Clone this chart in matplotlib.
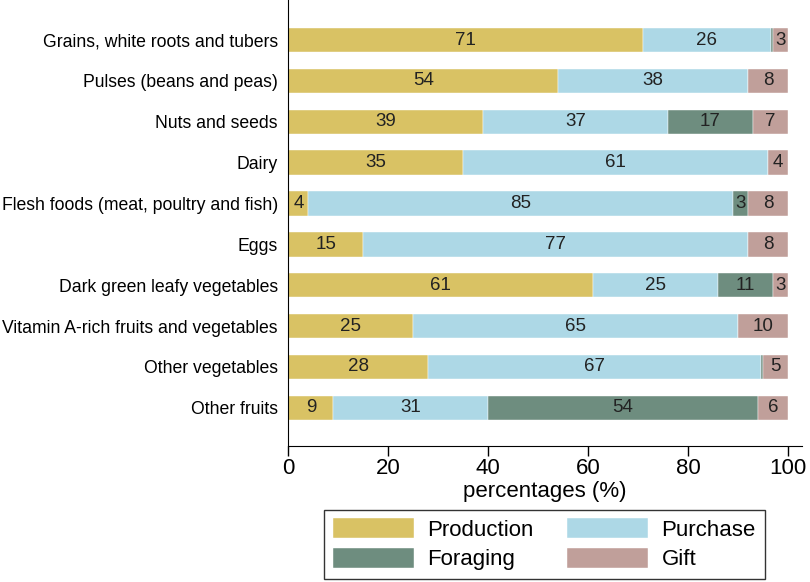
import numpy as np
import matplotlib.pyplot as plt

plt.rcParams['font.family'] = ['Liberation Sans', 'DejaVu Sans']

# Categorías y valores (%)
categorias = ['Grains, white roots and tubers', 'Pulses (beans and peas)', 'Nuts and seeds',
              'Dairy', 'Flesh foods (meat, poultry and fish)', 'Eggs',
              'Dark green leafy vegetables', 'Vitamin A-rich fruits and vegetables',
              'Other vegetables', 'Other fruits']
production = [71, 54, 39, 35, 4, 15, 61, 25, 28, 9]
purchase = [25.6, 38, 37, 61, 85, 77, 25, 65, 66.6, 31]
foraging = [0.4, 0, 17, 0, 3, 0, 11, 0, 0.4, 54]
gift = [3, 8, 7, 4, 8, 8, 3, 10, 5, 6]

series = ['Production', 'Purchase', 'Foraging', 'Gift']
colores = ['#d9c264', '#add8e6', '#6e8d7f', '#c09f9a']
datos = [production, purchase, foraging, gift]

fig = plt.figure(figsize=(8.1, 5.82), dpi=100)
ax = fig.add_axes([0.356, 0.234, 0.634, 0.766])

y = np.arange(len(categorias))
izq = np.zeros(len(categorias))
handles = []
for nombre, col, vals in zip(series, colores, datos):
    vals = np.array(vals, dtype=float)
    b = ax.barh(y, vals, left=izq, height=0.6, color=col, label=nombre,
                edgecolor='white', linewidth=0.3)
    handles.append(b)
    for yi, l, v in zip(y, izq, vals):
        if v >= 1:
            ax.text(l + v / 2, yi, f'{v:.0f}', ha='center', va='center',
                    fontsize=13.5, color='#222222')
    izq += vals

ax.set_xlim(0, 102.8)
ax.set_ylim(9.93, -0.98)
ax.set_yticks(y)
ax.set_yticklabels(categorias, fontsize=12.7)
ax.tick_params(axis='y', length=0, pad=7.5)
ax.set_xticks([0, 20, 40, 60, 80, 100])
ax.tick_params(axis='x', labelsize=16, length=7, width=1, pad=2)
ax.set_xlabel('percentages (%)', fontsize=16, labelpad=1)
ax.spines['top'].set_visible(False)
ax.spines['right'].set_visible(False)

# orden por filas: Production, Purchase / Foraging, Gift
orden = [handles[0], handles[2], handles[1], handles[3]]
etiquetas = [series[0], series[2], series[1], series[3]]
leg = fig.legend(orden, etiquetas, loc='lower center', bbox_to_anchor=(0.672, 0.005),
                 ncol=2, fontsize=16, frameon=True, fancybox=False, edgecolor='black',
                 handlelength=3.65, handleheight=1.0, columnspacing=1.5,
                 borderpad=0.4, labelspacing=0.3, handletextpad=0.6, borderaxespad=0)
leg.get_frame().set_linewidth(1)

plt.savefig('out.png', dpi=100)
